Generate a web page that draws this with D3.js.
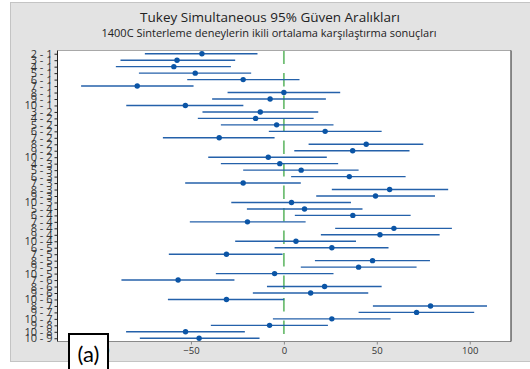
<!DOCTYPE html>
<html>
<head>
<meta charset="utf-8">
<script src="https://cdn.jsdelivr.net/npm/d3@7"></script>
<style>
  html, body { margin: 0; padding: 0; background: #fff; }
  svg { display: block; }
</style>
</head>
<body>
<div id="chart"></div>
<script>
// pair labels, top to bottom
const pairs = [
  '2 - 1', '3 - 1', '4 - 1', '5 - 1', '6 - 1', '7 - 1', '8 - 1', '9 - 1', '10 - 1',
  '3 - 2', '4 - 2', '5 - 2', '6 - 2', '7 - 2', '8 - 2', '9 - 2', '10 - 2',
  '4 - 3', '5 - 3', '6 - 3', '7 - 3', '8 - 3', '9 - 3', '10 - 3',
  '5 - 4', '6 - 4', '7 - 4', '8 - 4', '9 - 4', '10 - 4',
  '6 - 5', '7 - 5', '8 - 5', '9 - 5', '10 - 5',
  '7 - 6', '8 - 6', '9 - 6', '10 - 6',
  '8 - 7', '9 - 7', '10 - 7',
  '9 - 8', '10 - 8',
  '10 - 9'
]
// difference of means
const centers = [
  -44.1, -57.5, -59.2, -47.7, -21.9, -78.9, 0.0, -7.4, -53.0,
  -12.7, -15.2, -3.9, 22.2, -34.8, 44.3, 37.0, -8.4,
  -2.2, 9.3, 35.2, -21.9, 56.9, 49.3, 4.1,
  11.1, 37.1, -19.6, 59.2, 51.7, 6.5,
  25.8, -30.9, 47.7, 40.2, -5.0,
  -56.9, 21.9, 14.4, -30.9,
  78.9, 71.4, 25.8,
  -7.7, -52.9,
  -45.6
]
// lower 95% limits
const lowers = [
  -74.8, -87.9, -90.4, -78.0, -52.0, -109.1, -30.3, -38.6, -84.8,
  -43.8, -46.3, -33.9, -8.1, -65.1, 13.3, 5.6, -40.7,
  -33.9, -21.9, 3.9, -53.1, 25.8, 17.4, -28.3,
  -19.9, 5.9, -50.6, 27.6, 19.9, -26.2,
  -5.0, -61.9, 16.7, 9.1, -36.6,
  -87.4, -9.1, -16.7, -62.4,
  47.9, 40.2, -5.9,
  -39.3, -84.9,
  -77.5
]
// upper 95% limits
const uppers = [
  -14.2, -26.2, -28.5, -17.6, 8.4, -48.6, 30.3, 22.6, -21.8,
  18.5, 16.0, 26.7, 52.6, -5.0, 75.0, 67.6, 23.1,
  29.2, 40.2, 65.5, 9.1, 88.4, 81.3, 36.1,
  42.3, 68.2, 11.7, 90.4, 83.8, 38.8,
  56.3, -0.7, 78.6, 71.4, 26.7,
  -26.6, 52.6, 45.4, 0.2,
  109.3, 102.4, 57.4,
  23.7, -21.0,
  -13.1
]
const xTicks = [-100, -50, 0, 50, 100]

const width = 530, height = 369
const plot = { left: 57.5, right: 511, top: 50.5, bottom: 341.5 }

const rows = pairs.map((p, i) => ({ label: p, c: centers[i], lo: lowers[i], hi: uppers[i] }))

const svg = d3.select('#chart').append('svg')
  .attr('width', width).attr('height', height)

// grey panel
svg.append('rect')
  .attr('x', 10.5).attr('y', 2.5)
  .attr('width', 530).attr('height', 359)
  .attr('fill', '#e3e3e3').attr('stroke', '#c4c4c4')

svg.append('text')
  .attr('x', 270).attr('y', 22)
  .attr('text-anchor', 'middle')
  .attr('font-family', 'Open Sans, sans-serif').attr('font-size', 13.5)
  .attr('fill', '#222')
  .text('Tukey Simultaneous 95% Güven Aralıkları')

svg.append('text')
  .attr('x', 269).attr('y', 37)
  .attr('text-anchor', 'middle')
  .attr('font-family', 'Open Sans, sans-serif').attr('font-size', 11)
  .attr('fill', '#222')
  .text('1400C Sinterleme deneylerin ikili ortalama karşılaştırma sonuçları')

const x = d3.scaleLinear().domain([-121.8, 122.2]).range([plot.left, plot.right])
const y = d3.scalePoint().domain(pairs).range([plot.top, plot.bottom]).padding(0.5)

svg.append('rect')
  .attr('x', plot.left).attr('y', plot.top)
  .attr('width', plot.right - plot.left).attr('height', plot.bottom - plot.top)
  .attr('fill', '#fff')

// zero reference
svg.append('line')
  .attr('x1', x(0)).attr('x2', x(0))
  .attr('y1', plot.top).attr('y2', plot.bottom)
  .attr('stroke', '#72bf76').attr('stroke-width', 1.8)
  .attr('stroke-dasharray', '13.5,9')

const g = svg.append('g')
g.selectAll('line.ci')
  .data(rows)
  .enter().append('line')
  .attr('class', 'ci')
  .attr('x1', d => x(d.lo)).attr('x2', d => x(d.hi))
  .attr('y1', d => y(d.label)).attr('y2', d => y(d.label))
  .attr('stroke', '#2461aa').attr('stroke-width', 1.4)

g.selectAll('circle')
  .data(rows)
  .enter().append('circle')
  .attr('cx', d => x(d.c)).attr('cy', d => y(d.label))
  .attr('r', 2.7)
  .attr('fill', '#0b55a6')

// frame
svg.append('line').attr('x1', plot.left).attr('x2', plot.right)
  .attr('y1', plot.top).attr('y2', plot.top).attr('stroke', '#a8a8a8')
svg.append('line').attr('x1', plot.left).attr('x2', plot.right)
  .attr('y1', plot.bottom).attr('y2', plot.bottom).attr('stroke', '#8a8a8a')
svg.append('line').attr('x1', plot.left).attr('x2', plot.left)
  .attr('y1', plot.top).attr('y2', plot.bottom).attr('stroke', '#222')
svg.append('line').attr('x1', plot.right).attr('x2', plot.right)
  .attr('y1', plot.top).attr('y2', plot.bottom).attr('stroke', '#222')

const yAxis = svg.append('g')
  .attr('transform', `translate(${plot.left},0)`)
  .call(d3.axisLeft(y).tickSize(3).tickPadding(2))
yAxis.select('.domain').remove()
yAxis.selectAll('line').attr('stroke', '#222')
yAxis.selectAll('text')
  .attr('font-family', 'Open Sans, sans-serif').attr('font-size', 11)
  .attr('fill', '#333')

const xAxis = svg.append('g')
  .attr('transform', `translate(0,${plot.bottom})`)
  .call(d3.axisBottom(x).tickValues(xTicks).tickSize(3).tickPadding(3))
xAxis.select('.domain').remove()
xAxis.selectAll('line').attr('stroke', '#888')
xAxis.selectAll('text')
  .attr('font-family', 'Open Sans, sans-serif').attr('font-size', 9.5)
  .attr('fill', '#333')

// panel label
svg.append('rect')
  .attr('x', 69).attr('y', 334)
  .attr('width', 39).attr('height', 40)
  .attr('fill', '#fff').attr('stroke', '#000').attr('stroke-width', 2)
svg.append('text')
  .attr('x', 88.5).attr('y', 362)
  .attr('text-anchor', 'middle')
  .attr('font-family', 'Lato, sans-serif').attr('font-size', 22)
  .attr('fill', '#000')
  .text('(a)')
</script>
</body>
</html>
